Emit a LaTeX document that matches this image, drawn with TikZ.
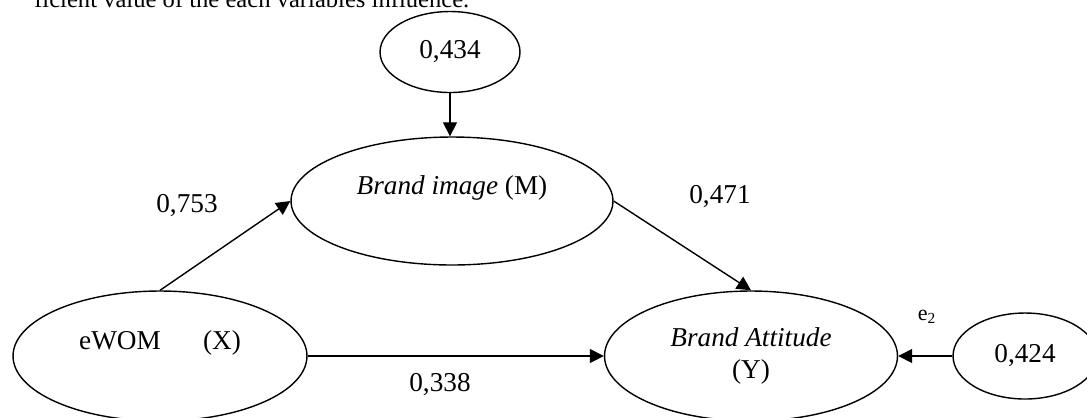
\documentclass[tikz,border=0pt]{standalone}
\usepackage{fontspec}
\setmainfont{Liberation Serif}
\usetikzlibrary{shapes.geometric, arrows.meta, positioning}

\begin{document}
\begin{tikzpicture}[
    x=0.02cm, y=-0.02cm,
    line width=0.8pt,
    latent/.style={draw, ellipse, inner sep=0pt, font=\fontsize{15.5}{18}\selectfont},
    raised/.style={text height=10pt, text depth=17pt},
    coef/.style={font=\fontsize{15.5}{18}\selectfont},
    arr/.style={-{Triangle[length=8pt, width=8pt]}}
]

% keep the page as large as the scan
\useasboundingbox (0,0) rectangle (1087,417);

% caption line, cut off at the top
\node[font=\fontsize{14}{17}\selectfont, anchor=base east, inner sep=0pt] (cap) at (470,7) {ficient value of the each variables influence.};

% Latent variables
\node[latent, raised, minimum width=5.88cm, minimum height=2.6cm] (ewom) at (160,356) {eWOM\hspace{1.55em}(X)};
\node[latent, raised, minimum width=6.44cm, minimum height=2.56cm] (bi) at (452,201) {\textit{Brand image} (M)};
\node[latent, align=center, minimum width=5.86cm, minimum height=2.6cm] (ba) at (751,356) {\textit{Brand Attitude}\\(Y)};

% Error terms
\node[latent, minimum width=2.8cm, minimum height=1.62cm] (e1) at (450,52) {0,434};
\node[latent, minimum width=2.88cm, minimum height=1.72cm] (e2) at (1025,356) {0,424};

% Paths
\draw[arr] (e1.south) -- (e1.south |- bi.north);
\draw[arr] (ewom.north) -- (bi.west);
\draw[arr] (bi.east) -- (ba.north);
\draw[arr] (ewom.east) -- (ba.west);
\draw[arr] (e2.west) -- (ba.east);

% Coefficients
\node[coef] (p1) at (187,206) {0,753};
\node[coef] (p2) at (720,197) {0,471};
\node[coef] (p3) at (440,385) {0,338};
\node[font=\fontsize{12.5}{14}\selectfont] (err) at (927,317) {e\textsubscript{2}};
\end{tikzpicture}
\end{document}
